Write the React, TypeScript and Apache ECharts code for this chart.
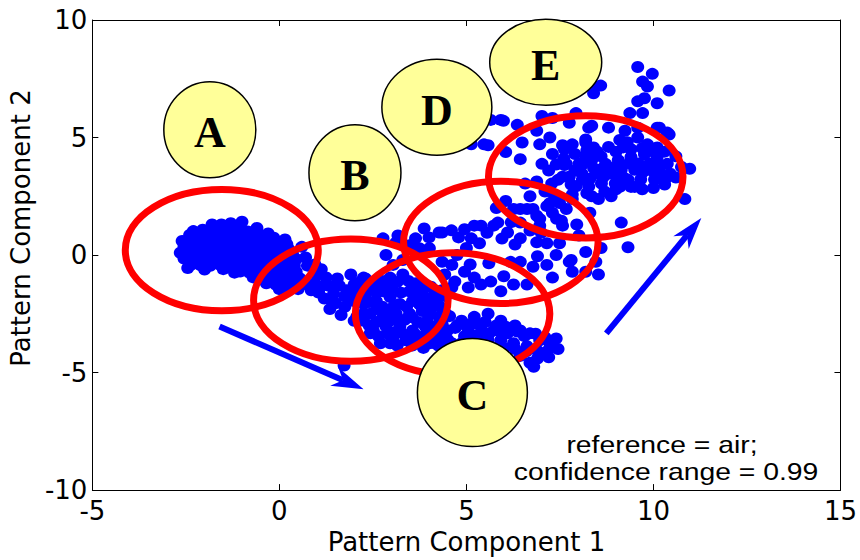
import React, { useEffect, useRef } from "react";
import * as echarts from "echarts";

// ---- scatter points (Pattern Component 1, Pattern Component 2) ----
const clusterA: number[][] = [
  [-1.55, 1.3], [-1.3, 1.35], [-1.05, 1.28], [-1.8, 1.3], [-1.0, 1.42], [-0.6, 1.15], [-2.3, 1.02],
  [-2.05, 1.08], [-1.8, 1.12], [-1.6, 1.04], [-1.35, 1.1], [-1.1, 1.06], [-0.85, 1.0], [-0.6, 0.96], [-0.3, 0.92],
  [-2.4, 0.85], [-2.15, 0.9], [-1.9, 0.82], [-1.65, 0.88], [-1.4, 0.85], [-1.15, 0.8], [-0.9, 0.86], [-0.65, 0.78], [-0.4, 0.8], [-0.15, 0.74], [0.15, 0.66],
  [-2.6, 0.6], [-2.35, 0.55], [-2.1, 0.62], [-1.85, 0.58], [-1.6, 0.55], [-1.35, 0.6], [-1.1, 0.57], [-0.85, 0.62], [-0.6, 0.55], [-0.35, 0.58], [-0.1, 0.52], [0.2, 0.46],
  [-2.55, 0.35], [-2.3, 0.3], [-2.05, 0.38], [-1.8, 0.32], [-1.55, 0.35], [-1.3, 0.3], [-1.05, 0.36], [-0.8, 0.3], [-0.55, 0.33], [-0.3, 0.28], [-0.05, 0.3], [0.25, 0.25],
  [-2.65, 0.1], [-2.4, 0.05], [-2.15, 0.12], [-1.9, 0.08], [-1.65, 0.1], [-1.4, 0.05], [-1.15, 0.12], [-0.9, 0.06], [-0.65, 0.1], [-0.4, 0.04], [-0.15, 0.08], [0.1, 0.02], [0.35, 0.05],
  [-2.55, -0.15], [-2.3, -0.2], [-2.05, -0.12], [-1.8, -0.18], [-1.55, -0.15], [-1.3, -0.2], [-1.05, -0.14], [-0.8, -0.2], [-0.55, -0.15], [-0.3, -0.2], [-0.05, -0.16], [0.2, -0.22], [0.45, -0.18],
  [-2.35, -0.4], [-2.1, -0.44], [-1.85, -0.46], [-1.6, -0.4], [-1.35, -0.45], [-1.1, -0.42], [-0.85, -0.5], [-0.6, -0.45], [-0.35, -0.5], [-0.1, -0.44], [0.15, -0.5], [0.4, -0.46],
  [-2.45, -0.55], [-2.0, -0.62], [-1.5, -0.6], [-1.2, -0.75],
  [-1.05, -0.7], [-0.8, -0.75], [-0.55, -0.7], [-0.3, -0.76], [-0.05, -0.7], [0.2, -0.78], [0.45, -0.72],
  [-0.7, -0.95], [-0.45, -1.0], [-0.2, -0.95], [0.05, -1.02], [0.3, -0.98], [0.55, -1.0],
  [-0.35, -1.2], [-0.1, -1.25], [0.15, -1.2], [0.4, -1.28], [0.65, -1.22],
  [0.0, -1.45], [0.25, -1.5], [0.5, -1.45],
];

const bandAB: number[][] = [
  [0.6, 0.35], [0.7, -0.1], [0.75, -0.45], [0.95, -0.4], [1.12, -0.6], [1.0, -0.85], [1.25, -0.95],
  [0.75, -1.25], [0.95, -1.2], [0.85, -1.5], [1.05, -1.6], [1.2, -1.85], [1.45, -1.65], [1.5, -2.05],
  [1.35, -2.3], [1.75, -2.2], [1.6, -1.3], [1.8, -1.5], [1.95, -1.85], [2.1, -1.6], [2.0, -1.25],
  [2.3, -1.0], [2.6, -1.1], [2.85, -1.25], [2.4, -2.0], [1.65, -2.55], [2.0, -2.8], [2.25, -2.5], [1.73, -4.7],
  [1.3, -1.3], [1.55, -1.0], [1.1, -1.35], [1.75, -1.75], [1.4, -1.95],
];

const midBC: number[][] = [
  [1.91, -0.83], [2.25, -0.96], [2.59, -1.25], [2.96, -0.96], [3.3, -0.83], [3.48, -1.54], [3.82, -1.54], [4.16, -1.67],
  [1.99, -1.96], [2.25, -2.08], [2.59, -1.96], [2.96, -1.79], [3.22, -2.08], [3.56, -1.96],
  [2.07, -2.63], [2.43, -2.5], [2.77, -2.63], [3.12, -2.5], [3.48, -2.5], [3.82, -2.38],
  [2.51, -3.21], [2.85, -3.04], [3.22, -3.04], [3.56, -3.21], [3.9, -3.04], [4.27, -2.63],
  [2.7, -3.75], [3.04, -3.63], [3.38, -3.63], [3.74, -3.63], [4.08, -3.46], [4.35, -2.92],
  [3.65, -1.2], [4.0, -2.0], [4.3, -2.2], [3.0, -1.4], [2.75, -2.2], [3.35, -2.75], [3.7, -2.85], [4.0, -2.55],
  [2.4, -3.0], [3.05, -3.3], [3.45, -3.4], [4.15, -3.15], [2.9, -2.4], [2.6, -1.6], [3.9, -1.8],
  [2.43, -3.33], [2.96, -3.75], [3.48, -3.46], [4.01, -3.75],
  [2.85, 0.0], [3.04, -0.42], [3.3, -0.21], [2.77, 0.71], [3.12, 0.54], [3.48, 0.42], [3.17, 0.83],
];

const midFill: number[][] = [
  [2.15, -1.15], [2.45, -1.2], [2.75, -1.1], [3.15, -1.15], [3.45, -1.1], [3.75, -1.35], [4.05, -1.35], [4.35, -1.5],
  [2.1, -1.5], [2.4, -1.45], [2.8, -1.55], [3.25, -1.6], [3.6, -1.7], [4.2, -1.95], [4.45, -1.75],
  [2.3, -1.8], [2.6, -2.3], [3.05, -2.2], [3.4, -2.2], [3.75, -2.1], [4.05, -2.3], [4.45, -2.5],
  [2.25, -2.8], [2.6, -2.85], [2.95, -2.8], [3.25, -2.8], [3.55, -2.65], [3.95, -2.8], [4.25, -2.95], [4.5, -3.2],
  [2.65, -3.45], [2.9, -3.35], [3.25, -3.3], [3.65, -3.4], [3.95, -3.3], [4.3, -3.4], [4.5, -3.6],
  [3.15, -3.85], [3.55, -3.85], [3.85, -3.95], [4.25, -3.85],
];

const bandD: number[][] = [
  [3.74, 0.29], [4.01, 0.29], [4.35, -0.29], [4.61, -0.42], [4.95, -0.71], [5.21, -0.96], [5.39, -1.25], [5.65, -1.13],
  [5.92, -1.54], [6.26, -1.25], [6.62, -1.25], [4.42, -0.83], [4.69, -1.13], [5.05, -1.38], [4.61, -1.38],
  [3.87, 1.13], [4.35, 0.96], [4.79, 0.75], [5.13, 0.71], [5.39, 1.25], [5.73, 1.25], [6.1, 0.96], [6.44, 0.71],
  [6.7, 1.04], [7.15, 0.5], [7.49, 0.5], [7.75, -0.29], [8.19, 0.13], [7.83, -0.71], [7.3, -0.96], [7.15, -0.42],
  [6.78, -0.5], [6.44, -0.29], [6.18, -0.29],
  [3.64, 0.71], [4.27, 0.96], [5.21, 1.25], [5.84, 1.38], [6.26, 1.96], [6.62, 1.96], [6.88, 1.67], [7.23, 2.21],
  [7.67, 1.96], [6.96, 1.25], [7.57, 1.25], [6.88, 0.54], [8.01, 0.83],
  [6.44, 1.96], [6.78, 1.96], [7.15, 2.08], [7.49, 2.21], [7.83, 2.38], [7.41, 1.54], [6.96, 1.54],
  [8.53, -0.83], [8.19, -0.71], [8.46, -0.29], [7.8, -0.21], [9.32, 0.33], [9.14, 1.38],
];

const dFill: number[][] = [
  [4.0, 0.75], [4.6, 1.05], [4.95, 1.1], [5.55, 0.95], [5.95, 0.7], [6.3, 0.45], [5.0, 0.3], [5.35, 0.5],
  [4.75, 0.0], [5.6, -0.35], [6.0, -0.9], [5.1, -0.4], [6.9, -0.05], [7.4, 0.0], [7.0, 0.95], [7.3, 1.8],
  [6.2, 1.4], [5.8, 2.0], [6.05, 2.3], [8.3, 1.8], [7.95, 1.3], [8.6, 0.3],
];

const clusterC: number[][] = [
  [4.87, -2.79], [5.21, -2.63], [5.58, -2.5], [5.92, -2.79], [5.05, -3.21], [5.39, -3.04], [5.73, -3.21], [6.1, -3.33],
  [6.44, -3.21], [6.7, -3.33], [6.96, -3.63], [7.23, -3.75], [4.35, -3.46], [4.61, -3.75], [4.87, -3.75], [5.21, -3.75],
  [5.58, -3.63], [5.92, -3.63], [6.26, -3.75], [6.62, -3.88], [6.88, -4.04], [6.7, -4.58], [6.44, -4.29], [4.16, -3.75],
  [7.3, -3.75], [6.36, -3.25], [5.3, -3.4], [6.0, -3.95], [4.7, -3.1],
];

const cFill: number[][] = [
  [4.55, -2.6], [4.75, -3.0], [5.0, -2.95], [5.25, -2.9], [5.5, -2.85], [5.8, -3.0], [6.05, -3.05], [6.3, -3.0],
  [6.55, -3.45], [6.85, -3.35], [7.1, -3.5], [7.4, -3.55], [7.45, -4.0], [7.15, -4.1], [6.9, -4.4], [7.2, -4.35],
  [6.6, -4.1], [6.3, -4.0], [5.95, -3.35], [5.6, -3.35], [5.15, -3.5], [4.95, -3.45], [4.45, -3.9], [6.8, -4.75],
];

const clusterE: number[][] = [
  [9.58, 8.0], [9.97, 7.71], [9.71, 7.38], [9.84, 7.17], [10.42, 7.0], [9.76, 6.67], [9.58, 6.54], [10.1, 6.46],
  [9.37, 6.04], [9.71, 6.04], [8.59, 7.21], [8.4, 6.88], [8.46, 7.17],
  [7.93, 6.04], [7.75, 5.63], [8.35, 5.5], [8.8, 5.42], [9.24, 5.29], [9.58, 5.42], [10.1, 5.42], [10.37, 5.21], [10.16, 5.42], [10.42, 5.13],
  [8.19, 4.92], [7.83, 4.71], [7.62, 4.5], [8.22, 4.46], [9.19, 4.58], [9.58, 5.0], [9.84, 4.71], [10.1, 4.58],
  [7.67, 3.88], [8.01, 3.88], [8.35, 4.04], [8.72, 3.88], [9.06, 4.04], [9.4, 4.17], [9.76, 4.29], [10.1, 4.17], [10.37, 3.88], [10.97, 3.67],
  [7.75, 3.33], [8.09, 3.46], [8.46, 3.46], [8.8, 3.46], [9.14, 3.63], [9.5, 3.63], [9.84, 3.63], [10.18, 3.46], [10.45, 3.46],
  [7.93, 2.92], [8.27, 2.92], [8.61, 3.04], [8.98, 3.04], [9.32, 3.21], [9.66, 3.21], [10.03, 3.21], [10.37, 3.33],
  [8.35, 2.5], [8.87, 2.5], [7.83, 2.58], [10.84, 2.38], [8.22, 2.63], [8.53, 2.38],
  [5.92, 5.75], [6.36, 5.54], [5.58, 4.67], [6.05, 4.38], [6.49, 4.79], [7.02, 5.92], [7.3, 5.83], [6.96, 4.71],
  [7.23, 5.0], [7.57, 4.67], [8.27, 5.42], [8.4, 4.58],
  [6.44, 4.08], [7.02, 3.88], [7.62, 3.83], [6.57, 3.04], [6.88, 3.13], [7.28, 3.04], [7.57, 3.33],
  [7.54, 1.46], [6.44, 1.38], [5.65, 5.75], [5.99, 5.71], [5.47, 4.71], [5.13, 4.71], [6.88, 5.29], [7.67, 4.58], [8.19, 4.79],
  [8.6, 4.2], [9.0, 4.4], [9.3, 4.8], [8.9, 3.7], [9.6, 3.9], [9.9, 3.9], [10.2, 3.8], [8.4, 3.7], [9.2, 3.3], [9.0, 2.8], [9.5, 2.9],
];

const eFill: number[][] = [
  [7.3, 4.3], [7.6, 4.1], [7.9, 4.3], [8.2, 4.2], [8.5, 4.4], [8.8, 4.6], [9.1, 4.9], [9.4, 4.5], [9.7, 4.55],
  [10.0, 4.4], [10.3, 4.4], [10.6, 4.2], [10.75, 3.75], [10.6, 3.3], [10.3, 3.0], [10.0, 2.85], [9.7, 2.8],
  [9.4, 2.9], [9.1, 2.9], [8.7, 2.7], [8.1, 3.2], [7.8, 3.0], [7.45, 3.2], [7.2, 3.6], [7.4, 3.85], [7.9, 3.6],
  [8.3, 3.25], [8.65, 3.3], [9.0, 3.35], [9.35, 3.9], [9.7, 3.5], [10.0, 3.55], [10.3, 3.2], [8.6, 3.65],
  [8.1, 3.85], [7.1, 2.7], [6.7, 2.5], [7.35, 2.55],
];

// ---- 0.99 confidence regions ----
const regionNames = ["A", "B", "C", "D", "E"];
const regionCenterX = [-1.54, 1.91, 4.63, 5.92, 8.19];
const regionCenterY = [0.21, -1.92, -2.5, 0.54, 3.33];
const regionRadius = [2.58, 2.6, 2.6, 2.6, 2.6];

// ---- letter bubbles ----
const bubbleX = [-1.86, 2.02, 5.16, 4.21, 7.12];
const bubbleY = [5.33, 3.5, -5.85, 6.29, 8.2];

// ---- direction arrows ----
const arrowFrom = [[-1.6, -3.04], [8.74, -3.33]];
const arrowTo = [[2.25, -5.71], [11.28, 1.58]];

// ---- axes ----
const xMin = -5, xMax = 15, xStep = 5;
const yMin = -10, yMax = 10, yStep = 5;
const xTitle = "Pattern Component 1";
const yTitle = "Pattern Component 2";
const noteLines = ["reference = air;", "confidence range = 0.99"];

// styles
const BUBBLE_RX = [46, 46, 55, 55, 56];
const BUBBLE_RY = [48, 48, 54, 48, 43];
const AXIS_FONT = '"DejaVu Sans", sans-serif';
const SANS = '"Liberation Sans", Arial, sans-serif';
const SERIF = '"Liberation Serif", "Times New Roman", serif';

export default function App() {
  const ref = useRef<HTMLDivElement>(null);
  useEffect(() => {
    if (!ref.current) return;
    const chart = echarts.init(ref.current, null, { renderer: "svg" });
    const points = [
      ...clusterA, ...bandAB, ...midBC, ...midFill, ...bandD, ...dFill,
      ...clusterC, ...cFill, ...clusterE, ...eFill,
    ];

    const axisCommon = {
      type: "value" as const,
      splitLine: { show: false },
      axisLine: { show: true, onZero: false, lineStyle: { color: "#000", width: 1 } },
      axisTick: { show: true, inside: true, length: 6, lineStyle: { color: "#000", width: 1 } },
    };

    chart.setOption({
      animation: false,
      backgroundColor: "#fff",
      grid: { left: 82, right: 14, top: 20, bottom: 60, containLabel: false },
      xAxis: [
        {
          ...axisCommon,
          min: xMin, max: xMax, interval: xStep, position: "bottom",
          axisLabel: { fontSize: 26, color: "#000", fontFamily: AXIS_FONT, margin: 8 },
          name: xTitle, nameLocation: "middle", nameGap: 33,
          nameTextStyle: { fontSize: 26, color: "#000", fontFamily: AXIS_FONT },
        },
        {
          ...axisCommon,
          min: xMin, max: xMax, interval: xStep, position: "top",
          axisLabel: { show: false },
        },
      ],
      yAxis: [
        {
          ...axisCommon,
          min: yMin, max: yMax, interval: yStep, position: "left",
          axisLabel: { fontSize: 26, color: "#000", fontFamily: AXIS_FONT, margin: 5 },
          name: yTitle, nameLocation: "middle", nameGap: 45,
          nameTextStyle: { fontSize: 26, color: "#000", fontFamily: AXIS_FONT, padding: [0, 0, 0, 54] },
        },
        {
          ...axisCommon,
          min: yMin, max: yMax, interval: yStep, position: "right",
          axisLabel: { show: false },
        },
      ],
      series: [
        {
          type: "scatter",
          data: points,
          symbol: "circle",
          symbolSize: [13, 12],
          itemStyle: { color: "#0000ff", opacity: 1 },
          z: 2,
          silent: true,
        },
        {
          type: "custom",
          data: regionCenterX.map((x, i) => [x, regionCenterY[i], regionRadius[i]]),
          encode: { x: 0, y: 1 },
          z: 3,
          silent: true,
          renderItem: (params: any, api: any) => {
            const c = api.coord([api.value(0), api.value(1)]);
            const s = api.size([api.value(2), api.value(2)]);
            return {
              type: "ellipse",
              shape: { cx: c[0], cy: c[1], rx: s[0], ry: s[1] },
              style: { fill: "none", stroke: "#ff0000", lineWidth: 7 },
            };
          },
        },
        {
          type: "custom",
          data: arrowFrom.map((p, i) => [p[0], p[1], arrowTo[i][0], arrowTo[i][1]]),
          encode: { x: [0, 2], y: [1, 3] },
          z: 4,
          silent: true,
          renderItem: (params: any, api: any) => {
            const p1 = api.coord([api.value(0), api.value(1)]);
            const p2 = api.coord([api.value(2), api.value(3)]);
            const dx = p2[0] - p1[0], dy = p2[1] - p1[1];
            const len = Math.hypot(dx, dy);
            const ux = dx / len, uy = dy / len;
            const nx = -uy, ny = ux;
            const L = 32, W = 10;
            const base = [p2[0] - ux * L * 0.7, p2[1] - uy * L * 0.7];
            return {
              type: "group",
              children: [
                {
                  type: "line",
                  shape: { x1: p1[0], y1: p1[1], x2: base[0], y2: base[1] },
                  style: { stroke: "#0000ff", lineWidth: 6 },
                },
                {
                  type: "polygon",
                  shape: {
                    points: [
                      [p2[0], p2[1]],
                      [p2[0] - ux * L + nx * W, p2[1] - uy * L + ny * W],
                      [base[0], base[1]],
                      [p2[0] - ux * L - nx * W, p2[1] - uy * L - ny * W],
                    ],
                  },
                  style: { fill: "#0000ff" },
                },
              ],
            };
          },
        },
        {
          type: "custom",
          data: bubbleX.map((x, i) => [x, bubbleY[i]]),
          encode: { x: 0, y: 1 },
          z: 5,
          silent: true,
          renderItem: (params: any, api: any) => {
            const i = params.dataIndex;
            const c = api.coord([api.value(0), api.value(1)]);
            return {
              type: "group",
              children: [
                {
                  type: "ellipse",
                  shape: { cx: c[0], cy: c[1], rx: BUBBLE_RX[i], ry: BUBBLE_RY[i] },
                  style: { fill: "#ffff99", stroke: "#000", lineWidth: 1.5 },
                },
                {
                  type: "text",
                  x: c[0],
                  y: c[1] + 3,
                  style: {
                    text: regionNames[i],
                    fill: "#000",
                    font: `bold 44px ${SERIF}`,
                    align: "center",
                    verticalAlign: "middle",
                    textAlign: "center",
                    textVerticalAlign: "middle",
                  },
                },
              ],
            };
          },
        },
      ],
      graphic: [
        {
          type: "text",
          x: 662,
          y: 445,
          scaleX: 1.18,
          z: 10,
          style: {
            text: noteLines[0],
            fill: "#000",
            font: `24px ${SANS}`,
            align: "center",
            verticalAlign: "middle",
            textAlign: "center",
            textVerticalAlign: "middle",
          },
        },
        {
          type: "text",
          x: 666,
          y: 472,
          scaleX: 1.18,
          z: 10,
          style: {
            text: noteLines[1],
            fill: "#000",
            font: `24px ${SANS}`,
            align: "center",
            verticalAlign: "middle",
            textAlign: "center",
            textVerticalAlign: "middle",
          },
        },
      ],
    });
    return () => chart.dispose();
  }, []);
  return (
    <div
      ref={ref}
      style={{ position: "fixed", left: 0, top: 0, width: 860, height: 560, background: "#fff" }}
    />
  );
}
